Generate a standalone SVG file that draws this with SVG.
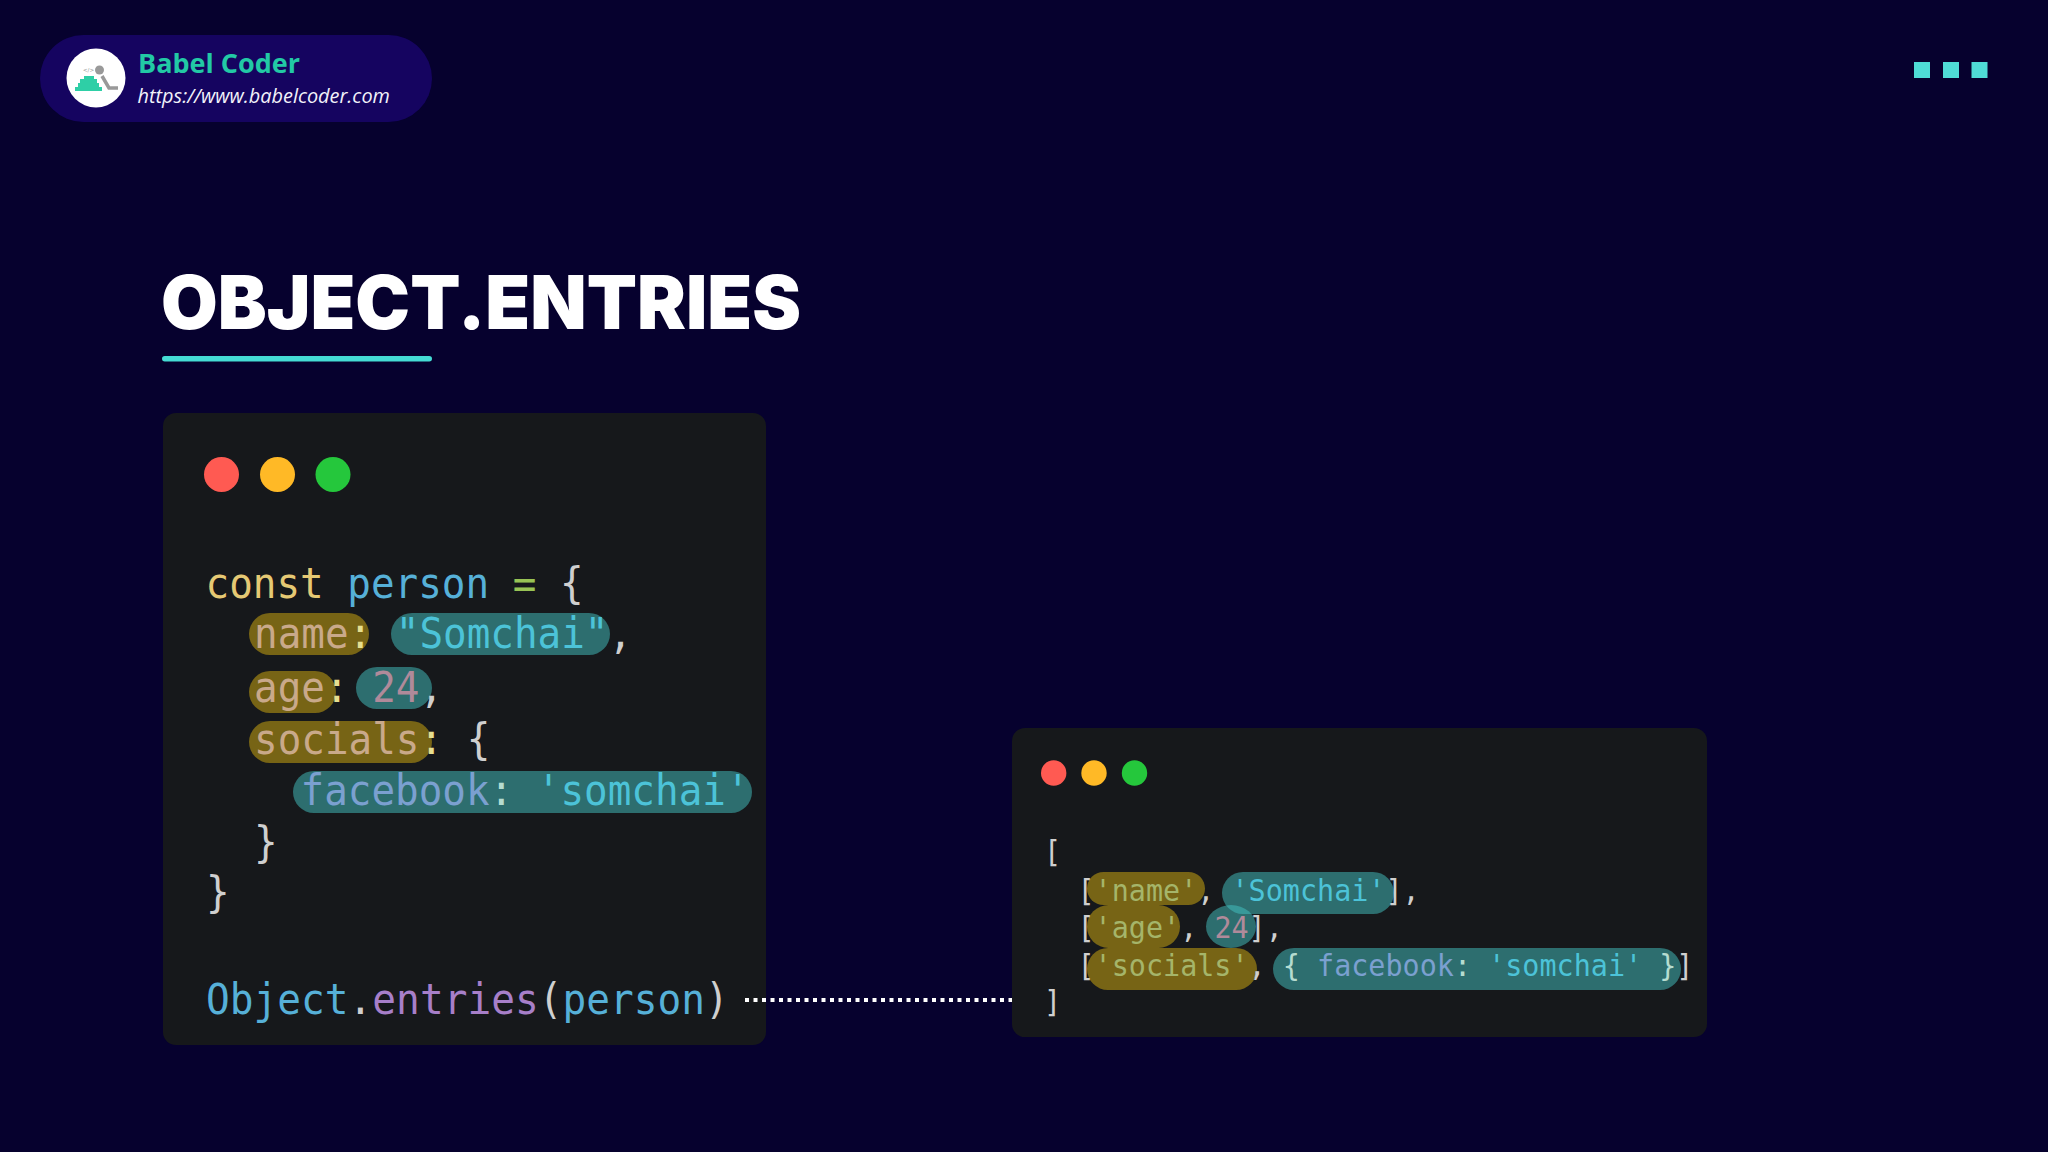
<svg xmlns="http://www.w3.org/2000/svg" width="2048" height="1152" viewBox="0 0 2048 1152">
<style>
.card{fill:#16181b}
.y{fill:#d8b010;fill-opacity:.5}
.t{fill:#43c4c4;fill-opacity:.5}
.code{font-family:"DejaVu Sans Mono","Liberation Mono",monospace;white-space:pre}
.l{font-size:42px}
.s{font-size:30.5px}
.w{fill:#cfcfcf}
.kw{fill:#e5c974}
.v{fill:#56b0d8}
.op{fill:#98c355}
.k{fill:#c9a98a}
.c{fill:#e6df90}
.str{fill:#4cc3d8}
.n{fill:#b08a9a}
.f{fill:#7ba0d0}
.m{fill:#a77fc9}
.ks{fill:#a5b56a}
.p{fill:#b5dcd0}
.red{fill:#ff5a52}
.amb{fill:#ffb926}
.grn{fill:#25c73c}
.sq{fill:#4fdcd6}
</style>
<rect width="2048" height="1152" fill="#06012e"/>
<g id="brand">
<rect x="40" y="35" width="392" height="87" rx="43.5" fill="#150460"/>
<circle cx="96" cy="78" r="29.5" fill="#fff"/>
<path d="M84 76h10v3h3v4h2v4h3v4H75v-4h3v-4h2v-4h4z" fill="#2ecfa6"/>
<text x="83" y="72" font-family="'DejaVu Sans',sans-serif" font-size="5.5" fill="#999">&lt;/&gt;</text>
<circle cx="99.5" cy="70" r="4.5" fill="#999"/>
<path d="M102 76l7 12h9" fill="none" stroke="#999" stroke-width="3.5"/>
<text x="138" y="72.5" font-family="'Open Sans',sans-serif" font-weight="700" font-size="27" fill="#22c9a5">Babel Coder</text>
<text x="137.5" y="102.5" font-family="'Open Sans',sans-serif" font-style="italic" font-size="19.9" fill="#f2f2fa">https://www.babelcoder.com</text>
</g>
<g id="menu-squares">
<rect class="sq" x="1914" y="62" width="16" height="16"/>
<rect class="sq" x="1943" y="62" width="16" height="16"/>
<rect class="sq" x="1971.5" y="62" width="16" height="16"/>
</g>
<g id="title">
<text x="161" y="329" font-family="Inter,'Liberation Sans',sans-serif" font-weight="900" font-size="74" fill="#fff" textLength="640" lengthAdjust="spacingAndGlyphs">OBJECT.ENTRIES</text>
<rect x="162" y="356" width="270" height="5.5" rx="2.75" fill="#45dcd4"/>
</g>
<g id="source-card">
<rect class="card" x="163" y="413" width="603" height="632" rx="13"/>
<circle class="red" cx="221.5" cy="474.5" r="17.5"/>
<circle class="amb" cx="277.5" cy="474.5" r="17.5"/>
<circle class="grn" cx="333" cy="474.5" r="17.5"/>
<rect class="y" x="249" y="613" width="120" height="42" rx="21"/>
<rect class="t" x="391" y="613" width="219" height="42" rx="21"/>
<rect class="y" x="249" y="671" width="87" height="42" rx="21"/>
<rect class="t" x="356" y="667" width="76" height="42" rx="21"/>
<rect class="y" x="249" y="721" width="183" height="42" rx="21"/>
<rect class="t" x="293" y="771" width="459" height="42" rx="21"/>
<text class="code l" transform="translate(205.5 598) scale(.935 1)"><tspan class="kw">const</tspan> <tspan class="v">person</tspan> <tspan class="op">=</tspan> <tspan class="w">{</tspan></text>
<text class="code l" transform="translate(254 648) scale(.935 1)"><tspan class="k">name</tspan><tspan class="c">:</tspan> <tspan class="str">"Somchai"</tspan><tspan class="w">,</tspan></text>
<text class="code l" transform="translate(254 702) scale(.935 1)"><tspan class="k">age</tspan><tspan class="c">:</tspan> <tspan class="n">24</tspan><tspan class="w">,</tspan></text>
<text class="code l" transform="translate(254 754) scale(.935 1)"><tspan class="k">socials</tspan><tspan class="c">:</tspan> <tspan class="w">{</tspan></text>
<text class="code l" transform="translate(300.5 805) scale(.935 1)"><tspan class="f">facebook</tspan><tspan class="p">:</tspan> <tspan class="str">'somchai'</tspan></text>
<text class="code l w" transform="translate(254 857) scale(.935 1)">}</text>
<text class="code l w" transform="translate(206 907) scale(.935 1)">}</text>
<text class="code l" transform="translate(206 1014) scale(.94 1)"><tspan class="v">Object</tspan><tspan class="w">.</tspan><tspan class="m">entries</tspan><tspan class="w">(</tspan><tspan class="v">person</tspan><tspan class="w">)</tspan></text>
</g>
<g id="result-card">
<rect class="card" x="1012" y="728" width="695" height="309" rx="13"/>
<circle class="red" cx="1053.7" cy="773" r="12.7"/>
<circle class="amb" cx="1094" cy="773" r="12.7"/>
<circle class="grn" cx="1134.5" cy="773" r="12.7"/>
<rect class="y" x="1087" y="872" width="118" height="33" rx="16.5"/>
<rect class="t" x="1222" y="872" width="172" height="42" rx="21"/>
<rect class="y" x="1087" y="905" width="93" height="43" rx="21.5"/>
<rect class="t" x="1206" y="905" width="50" height="43" rx="25"/>
<rect class="y" x="1087" y="948" width="170" height="42" rx="21"/>
<rect class="t" x="1273" y="948" width="408" height="42" rx="21"/>
<text class="code s w" transform="translate(1044 862) scale(.932 1)">[</text>
<text class="code s" transform="translate(1077.5 901) scale(.932 1)"><tspan class="w">[</tspan><tspan class="ks">'name'</tspan><tspan class="w">,</tspan> <tspan class="str">'Somchai'</tspan><tspan class="w">],</tspan></text>
<text class="code s" transform="translate(1077.5 938) scale(.932 1)"><tspan class="w">[</tspan><tspan class="ks">'age'</tspan><tspan class="w">,</tspan> <tspan class="n">24</tspan><tspan class="w">],</tspan></text>
<text class="code s" transform="translate(1077.5 976) scale(.932 1)"><tspan class="w">[</tspan><tspan class="ks">'socials'</tspan><tspan class="w">,</tspan> <tspan class="p">{</tspan> <tspan class="f">facebook</tspan><tspan class="p">:</tspan> <tspan class="str">'somchai'</tspan> <tspan class="p">}</tspan><tspan class="w">]</tspan></text>
<text class="code s w" transform="translate(1044 1012) scale(.932 1)">]</text>
</g>
<g id="connectors">
<line x1="745" y1="1000" x2="1012" y2="1000" stroke="#fff" stroke-width="4" stroke-dasharray="4 4.5"/>
</g>
</svg>
